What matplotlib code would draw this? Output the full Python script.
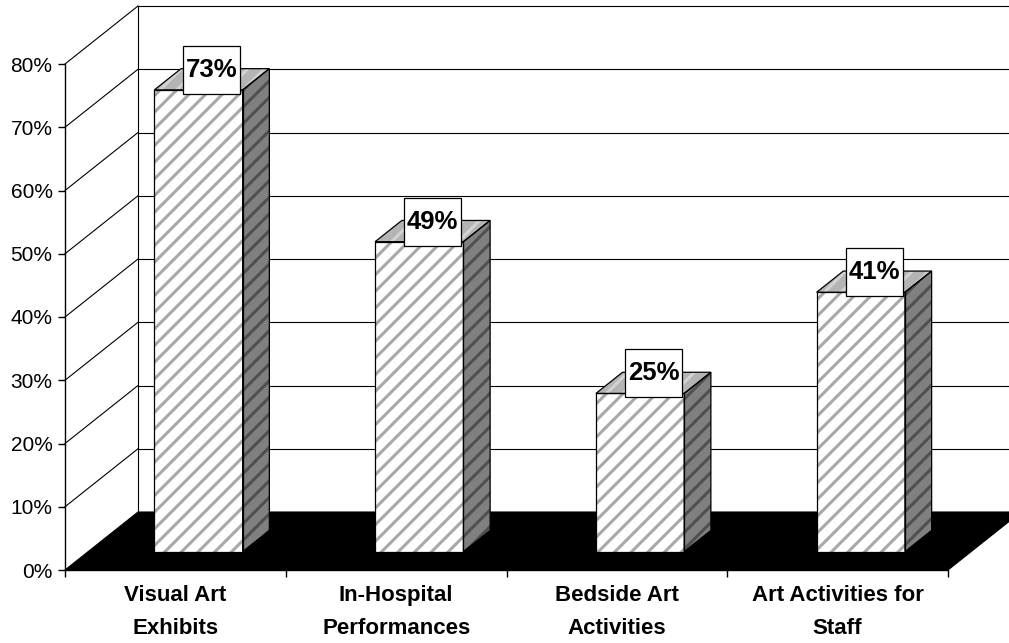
''' 3D STYLE BAR CHART - ARTS PROGRAMS '''

import matplotlib.pyplot as plt
from matplotlib.patches import Polygon, Rectangle

categories = ['Visual Art\nExhibits', 'In-Hospital\nPerformances',
              'Bedside Art\nActivities', 'Art Activities for\nStaff']
values = [73, 49, 25, 41]
y_ticks = [0, 10, 20, 30, 40, 50, 60, 70, 80]
y_tick_labels = ['0%', '10%', '20%', '30%', '40%', '50%', '60%', '70%', '80%']

plt.rcParams['font.family'] = ['Liberation Sans', 'DejaVu Sans']
plt.rcParams['hatch.linewidth'] = 2.2

W, H = 1009, 643
fig = plt.figure(figsize=(W / 100, H / 100), dpi=100)
fig.patch.set_facecolor('white')
# front plane of the plot: x 65..948 px, y 64..570 px
ax = fig.add_axes([65 / W, 73 / H, 883 / W, 506 / H])
ax.set_xlim(0, len(categories))
ax.set_ylim(0, 80)
ax.patch.set_visible(False)

px_x = 883 / len(categories)   # px per category
px_y = 506 / 80                # px per percent
DX = 73 / px_x                 # depth shift (category units)
DY = 58 / px_y                 # depth shift (percent units)


def proj(x, y, d):
    return (x + d * DX, y + d * DY)


n = len(categories)

# back wall gridlines + side wall diagonals
for v in y_ticks[1:]:
    ax.plot(*zip(proj(0, v, 1), proj(n + 1, v, 1)), color='black', lw=0.8,
            clip_on=False, zorder=1)
    ax.plot(*zip(proj(0, v, 0), proj(0, v, 1)), color='black', lw=0.8,
            clip_on=False, zorder=1)
ax.plot(*zip(proj(0, 0, 1), proj(0, 80, 1)), color='black', lw=0.8,
        clip_on=False, zorder=1)

# floor
floor = [proj(0, 0, 0), proj(n, 0, 0), proj(n, 0, 1), proj(0, 0, 1)]
ax.add_patch(Polygon(floor, closed=True, facecolor='black', edgecolor='black',
                     lw=0.8, clip_on=False, zorder=2))

BW = 0.4
D0, D1 = 0.317, 0.683
BOX_W = 57 / px_x
BOX_H = 48 / px_y


def face(pts, fc, hc, z):
    ax.add_patch(Polygon(pts, closed=True, facecolor=fc, edgecolor=hc,
                         hatch='//', lw=0, clip_on=False, zorder=z))
    ax.add_patch(Polygon(pts, closed=True, fill=False, edgecolor='black',
                         lw=0.9, clip_on=False, zorder=z + 0.1))


for i, v in enumerate(values):
    x0 = i + 0.5 - BW / 2
    x1 = i + 0.5 + BW / 2
    side = [proj(x1, 0, D0), proj(x1, 0, D1), proj(x1, v, D1), proj(x1, v, D0)]
    top = [proj(x0, v, D0), proj(x1, v, D0), proj(x1, v, D1), proj(x0, v, D1)]
    front = [proj(x0, 0, D0), proj(x1, 0, D0), proj(x1, v, D0), proj(x0, v, D0)]
    face(side, '#808080', '#505050', 3)
    face(top, '#b4b4b4', '#d2d2d2', 3)
    face(front, 'white', '#a8a8a8', 3)

    cx, cy = proj(i + 0.5, v, 0.5)
    cy += 1.5
    ax.add_patch(Rectangle((cx - BOX_W / 2, cy - BOX_H / 2), BOX_W, BOX_H,
                           facecolor='white', edgecolor='black', lw=0.9,
                           clip_on=False, zorder=8))
    ax.text(cx, cy, f'{v}%', ha='center', va='center', fontsize=18.5,
            fontweight='bold', zorder=9, clip_on=False)

# axes
for s in ['top', 'right']:
    ax.spines[s].set_visible(False)
for s in ['left', 'bottom']:
    ax.spines[s].set_linewidth(1.0)
    ax.spines[s].set_zorder(6)
ax.set_yticks(y_ticks)
ax.set_yticklabels(y_tick_labels, fontsize=15)
ax.tick_params(axis='y', direction='out', length=5, width=1, pad=4)
ax.set_xticks(range(n + 1))
ax.set_xticklabels([])
ax.tick_params(axis='x', which='major', direction='out', length=5, width=1)
ax.set_xticks([i + 0.5 for i in range(n)], minor=True)
ax.set_xticklabels(categories, minor=True, fontsize=16, fontweight='bold')
ax.tick_params(axis='x', which='minor', length=0, pad=11)
for lab in ax.get_xticklabels(minor=True):
    lab.set_linespacing(1.75)

fig.savefig('out.png', dpi=100)
